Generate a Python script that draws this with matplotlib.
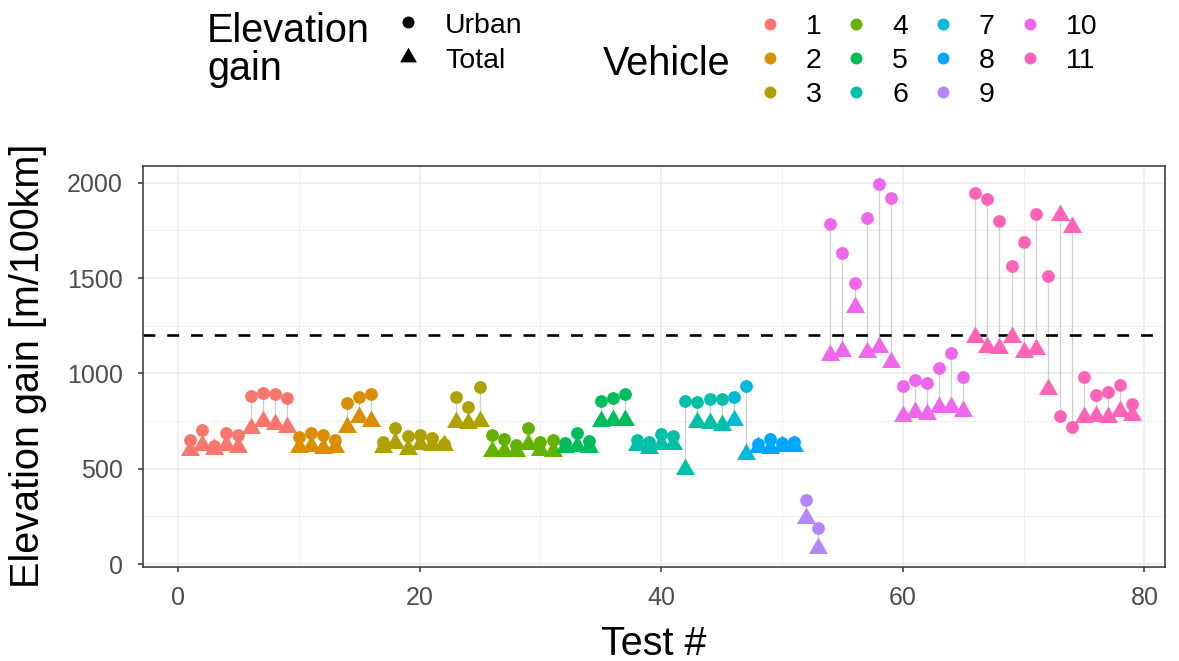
import numpy as np
import matplotlib.pyplot as plt
from matplotlib.lines import Line2D

plt.rcParams['font.family'] = ['Liberation Sans', 'DejaVu Sans']

# number of tests per vehicle, in test order
vehicle_sizes = [9, 7, 9, 6, 6, 8, 2, 4, 2, 12, 14]
vehicle_names = ['1', '2', '3', '4', '5', '6', '7', '8', '9', '10', '11']
vehicle_colors = ['#F8766D', '#DB8E00', '#AEA200', '#64B200', '#00BD5C', '#00C1A7',
                  '#00BADE', '#00A6FF', '#B385FF', '#EF67EB', '#FF63B6']

# elevation gain [m/100km] per test
urban = [651, 703, 619, 686, 677, 881, 895, 890, 873,
         668, 686, 677, 651, 843, 878, 892,
         642, 712, 673, 677, 659, 628, 878, 825, 927,
         677, 656, 624, 712, 642, 651,
         637, 686, 647, 857, 873, 892,
         651, 642, 680, 672, 855, 848, 864, 864,
         878, 935,
         628, 654, 635, 642,
         336, 187,
         1782, 1633, 1473, 1814, 1992, 1919, 934, 965, 951, 1027, 1105, 979,
         1945, 1915, 1800, 1563, 1689, 1836, 1511, 778, 717, 983, 887, 904, 939, 839]
total = [598, 626, 603, 624, 612, 713, 752, 735, 717,
         615, 621, 609, 612, 720, 773, 752,
         612, 635, 603, 630, 624, 622, 743, 738, 752,
         591, 591, 591, 630, 598, 591,
         615, 621, 615, 749, 755, 755,
         625, 609, 630, 630, 498, 747, 738, 731,
         755, 577,
         612, 609, 621, 621,
         241, 84,
         1097, 1119, 1347, 1111, 1137, 1058, 778, 799, 787, 822, 822, 801,
         1189, 1140, 1133, 1189, 1111, 1128, 918, 1833, 1767, 770, 778, 770, 804, 783]
threshold = 1200

urban = np.array(urban)
total = np.array(total)
tests = np.arange(1, len(urban) + 1)
vehicle = np.repeat(np.arange(len(vehicle_sizes)), vehicle_sizes)

# triangle centred on its centroid (like R's pch 17)
tri = [(0, 1), (-0.866, -0.5), (0.866, -0.5)]

W, H = 1179, 661
fig = plt.figure(figsize=(W / 100, H / 100), dpi=100)
ax = fig.add_axes([143 / W, 1 - 567 / H, (1165 - 143) / W, (567 - 166) / H])


def px(x, y):
    return x / W, 1 - y / H


ax.vlines(tests, urban, total, color='#CFCFCF', lw=0.9, zorder=2)
ax.axhline(threshold, color='black', lw=1.9, ls=(0, (4.5, 4.5)), zorder=2.5)
for i, col in enumerate(vehicle_colors):
    m = vehicle == i
    ax.plot(tests[m], urban[m], ls='none', marker='o', ms=9.2, mew=0, color=col, zorder=3)
    ax.plot(tests[m], total[m], ls='none', marker=tri, ms=15.8, mew=0, color=col, zorder=3)

ax.set_xlim(-2.9, 81.7)
ax.set_ylim(-15.7, 2088)
ax.set_xticks([0, 20, 40, 60, 80])
ax.set_xticks([10, 30, 50, 70], minor=True)
ax.set_yticks([0, 500, 1000, 1500, 2000])
ax.set_yticks([250, 750, 1250, 1750], minor=True)
ax.grid(which='major', color='#EBEBEB', lw=1.1, zorder=0)
ax.grid(which='minor', color='#EBEBEB', lw=0.55, zorder=0)
ax.set_axisbelow(True)
for s in ax.spines.values():
    s.set_color('#333333')
    s.set_linewidth(1.1)
ax.tick_params(which='major', length=3.6, width=1.1, color='#333333',
               labelcolor='#4D4D4D', labelsize=18)
ax.tick_params(axis='x', which='major', pad=10)
ax.tick_params(axis='y', which='major', pad=11)
ax.tick_params(which='minor', length=0)

fig.text(*px(28, 366), 'Elevation gain [m/100km]', rotation=90, ha='center', va='center',
         fontsize=28.5)
fig.text(*px(654, 655), 'Test #', ha='center', va='baseline', fontsize=28.5)

# legends drawn by hand to follow the ggplot layout
fig.text(*px(207, 42), 'Elevation', ha='left', va='baseline', fontsize=28.5)
fig.text(*px(207, 80), 'gain', ha='left', va='baseline', fontsize=28.5)
fig.add_artist(Line2D([408 / W], [1 - 22 / H], marker='o', ms=8.6, mew=0, color='black',
                      ls='none', transform=fig.transFigure))
fig.add_artist(Line2D([408 / W], [1 - 57 / H], marker=tri, ms=14, mew=0, color='black',
                      ls='none', transform=fig.transFigure))
fig.text(*px(445, 33), 'Urban', ha='left', va='baseline', fontsize=20.5)
fig.text(*px(445, 68), 'Total', ha='left', va='baseline', fontsize=20.5)

fig.text(*px(603, 75), 'Vehicle', ha='left', va='baseline', fontsize=28.5)
col_x = [770, 856, 943, 1030]
row_y = [24, 58, 92]
for i, (name, col) in enumerate(zip(vehicle_names, vehicle_colors)):
    cx = col_x[i // 3]
    cy = row_y[i % 3]
    fig.add_artist(Line2D([cx / W], [1 - cy / H], marker='o', ms=8.6, mew=0, color=col,
                          ls='none', transform=fig.transFigure))
    fig.text(*px(cx + 36, cy + 10), name, ha='left', va='baseline', fontsize=20.5)

fig.savefig('out.png', dpi=100)
